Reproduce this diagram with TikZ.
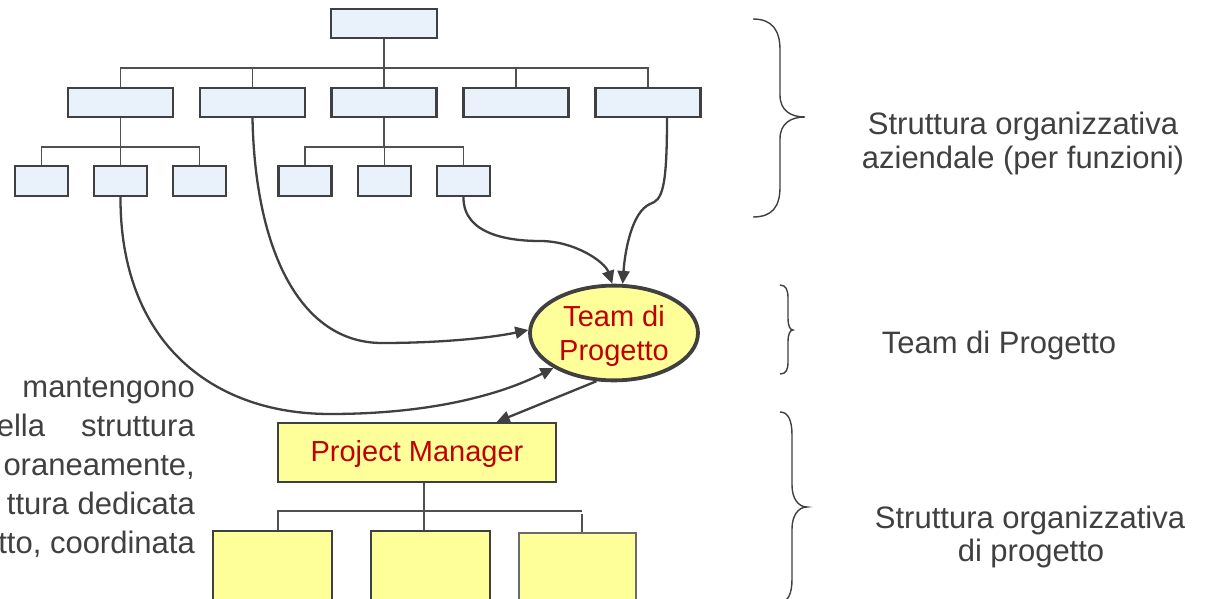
\documentclass[tikz,border=0pt]{standalone}
\usepackage{fontspec}
\setmainfont{Liberation Sans}
\usetikzlibrary{arrows.meta,shapes.geometric,calc}

\definecolor{ink}{HTML}{404040}
\definecolor{lineink}{HTML}{505050}
\definecolor{orgblue}{HTML}{E9F1FA}
\definecolor{pmyellow}{HTML}{FFFF99}
\definecolor{pmred}{HTML}{C00000}

\tikzset{
  orgbox/.style={draw=ink, line width=2.2pt, fill=orgblue, inner sep=0pt},
  unitbox/.style={orgbox, minimum width=105pt, minimum height=29pt},
  subbox/.style={orgbox, minimum width=53pt, minimum height=30pt},
  pmbox/.style={draw=ink, line width=2.2pt, fill=pmyellow, inner sep=0pt},
  redtext/.style={text=pmred, font=\fontsize{29}{34}\selectfont},
  tree/.style={draw=lineink, line width=1.6pt},
  link/.style={draw=ink, line width=2.3pt, -{Triangle[length=13pt,width=12pt]}},
  brace/.style={draw=ink, line width=1.4pt},
  sidetext/.style={text=ink, font=\fontsize{31}{33}\selectfont, inner sep=0pt, anchor=base},
  lefttext/.style={text=ink, font=\fontsize{31}{33}\selectfont, inner sep=0pt, anchor=base east},
}

\begin{document}
\begin{tikzpicture}[x=1pt, y=-1pt]
  \useasboundingbox (0,0) rectangle (1210,599);
  \fill[white] (0,0) rectangle (1210,599);
  \clip (0,0) rectangle (1210,599);

  % ---- functional organisation chart ----
  \node[unitbox, minimum width=106pt] (ceo) at (384,23.5) {};
  \node[unitbox] (l1a) at (120.5,102.5) {};
  \node[unitbox] (l1b) at (252.5,102.5) {};
  \node[unitbox] (l1c) at (384,102.5) {};
  \node[unitbox] (l1d) at (516,102.5) {};
  \node[unitbox] (l1e) at (648,102.5) {};

  \node[subbox] (l2a) at (41.5,181) {};
  \node[subbox] (l2b) at (120.5,181) {};
  \node[subbox] (l2c) at (199.5,181) {};
  \node[subbox] (l2d) at (305,181) {};
  \node[subbox] (l2e) at (384.5,181) {};
  \node[subbox] (l2f) at (463.5,181) {};

  \coordinate (busA) at (0,68);
  \coordinate (busB) at (0,147);

  \draw[tree] (ceo.south) -- (ceo.south |- busA);
  \draw[tree] (l1a.north) |- (l1e.north |- busA) -- (l1e.north);
  \draw[tree] (l1b.north) -- (l1b.north |- busA);
  \draw[tree] (l1c.north) -- (l1c.north |- busA);
  \draw[tree] (l1d.north) -- (l1d.north |- busA);

  \draw[tree] (l1a.south) -- (l1a.south |- busB);
  \draw[tree] (l2a.north) |- (l2c.north |- busB) -- (l2c.north);
  \draw[tree] (l2b.north) -- (l2b.north |- busB);

  \draw[tree] (l1c.south) -- (l1c.south |- busB);
  \draw[tree] (l2d.north) |- (l2f.north |- busB) -- (l2f.north);
  \draw[tree] (l2e.north) -- (l2e.north |- busB);

  % ---- project team ----
  \node[ellipse, draw=ink, line width=3.8pt, fill=pmyellow, inner sep=0pt,
        minimum width=168pt, minimum height=88pt, align=center, redtext]
        (team) at (614,333) {\rule{0pt}{27pt}Team di\\Progetto};

  % ---- project organisation ----
  \node[pmbox, minimum width=278pt, minimum height=59pt, redtext]
        (pm) at (417,452.5) {\rule{0pt}{25pt}Project Manager};
  \node[pmbox, minimum width=119pt, minimum height=100pt] (tma) at (272.5,581) {};
  \node[pmbox, minimum width=119pt, minimum height=100pt] (tmb) at (430.5,581) {};
  \node[pmbox, draw=lineink!85, line width=1.6pt, minimum width=117pt, minimum height=100pt]
        (tmc) at (577.5,583) {};

  \coordinate (busC) at (0,511);
  \coordinate (stem) at ($(pm.south)+(7,0)$);
  \coordinate (dropA) at ($(tma.north)+(5.5,0)$);
  \coordinate (dropC) at ($(tmc.north)+(4.5,0)$);
  \coordinate (dropCtop) at (582,514);
  \draw[tree] (stem) -- (stem |- tmb.north);
  \draw[tree] (dropA) |- (dropC |- busC);
  \draw[tree] (dropCtop) -- (dropC);

  % ---- members drawn from the functions ----
  \draw[link] (l2b.south) .. controls (120,340) and (210,414) .. (330,414)
              .. controls (430,414) and (500,395) .. (team.210);
  \draw[link] (l1b.south) .. controls (255,250) and (300,343) .. (382,343)
              .. controls (440,343) and (490,338) .. (team.178);
  \draw[link] (l2f.south) .. controls (463,235) and (510,241) .. (540,241)
              .. controls (575,241) and (605,262) .. (team.92);
  \draw[link] ($(l1e.south)+(19,0)$) .. controls (667,190) and (662,200) .. (650,204)
              .. controls (632,212) and (625,250) .. (team.80);
  \draw[link] (team.250) -- (pm.21.5);

  % ---- braces ----
  \draw[brace] (753,19) .. controls (772,19) and (780,30) .. (780,50) -- (780,95)
     .. controls (780,110) and (790,117) .. (805,117)
     .. controls (790,117) and (780,124) .. (780,139) -- (780,187)
     .. controls (780,207) and (772,217) .. (753,217);
  \draw[brace] (780,285) .. controls (786,285) and (788,290) .. (788,298) -- (788,318)
     .. controls (788,326) and (790,330) .. (793,330)
     .. controls (790,330) and (788,334) .. (788,342) -- (788,362)
     .. controls (788,370) and (786,374) .. (780,374);
  \draw[brace] (780,412) .. controls (788,412) and (792,420) .. (792,435) -- (792,485)
     .. controls (792,498) and (798,507) .. (807,507)
     .. controls (798,507) and (792,516) .. (792,529) -- (792,579)
     .. controls (792,594) and (788,602) .. (780,602);

  % ---- captions ----
  \node[sidetext] (capA1) at (1023,135) {Struttura organizzativa};
  \node[sidetext] (capA2) at (1023,168) {aziendale (per funzioni)};
  \node[sidetext] (capB) at (999,353) {Team di Progetto};
  \node[sidetext] (capC1) at (1030,528) {Struttura organizzativa};
  \node[sidetext] (capC2) at (1031,561) {di progetto};

  \node[lefttext] (par1) at (195,397) {mantengono};
  \node[lefttext] (par2) at (195,436) {ella\hspace{36pt}struttura};
  \node[lefttext] (par3) at (195,475) {oraneamente,};
  \node[lefttext] (par4) at (195,514) {ttura dedicata};
  \node[lefttext] (par5) at (195,553) {tto, coordinata};
\end{tikzpicture}
\end{document}
